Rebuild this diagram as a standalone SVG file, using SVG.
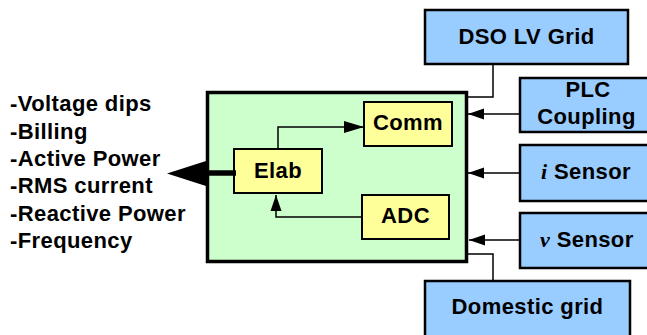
<svg xmlns="http://www.w3.org/2000/svg" width="647" height="335" viewBox="0 0 647 335">
<style>
.ext{fill:#99CCFF;stroke:#000;stroke-width:2.5}
.blk{fill:#FFFF99;stroke:#000;stroke-width:2}
.t{font-family:"Liberation Sans",Arial,sans-serif;font-weight:bold;font-size:22px;letter-spacing:0.4px;fill:#000}
.m{text-anchor:middle}
.it{font-family:"Liberation Serif","Times New Roman",serif;font-style:italic;font-weight:bold}
.c{fill:none;stroke:#000;stroke-width:1.5}
</style>
<defs>
<marker id="ah" markerUnits="userSpaceOnUse" markerWidth="17" markerHeight="12" refX="16" refY="6" orient="auto">
<path d="M0,0.5 L16,6 L0,11.5 z" fill="#000"/>
</marker>
<marker id="ahL" markerUnits="userSpaceOnUse" markerWidth="21" markerHeight="13" refX="20" refY="6.5" orient="auto">
<path d="M0,0.5 L20,6.5 L0,12.5 z" fill="#000"/>
</marker>
</defs>
<rect width="647" height="335" fill="#fff"/>
<g id="meter">
<rect x="207.5" y="92.5" width="259" height="169" fill="#CCFFCC" stroke="#000" stroke-width="3.5"/>
</g>
<g id="comm"><rect class="blk" x="364" y="102" width="88" height="44"/><text class="t m" x="408" y="130">Comm</text></g>
<g id="elab"><rect class="blk" x="234" y="149" width="88" height="44"/><text class="t m" x="278" y="178">Elab</text></g>
<g id="adc"><rect class="blk" x="362" y="195" width="87" height="44"/><text class="t m" x="405.5" y="223">ADC</text></g>
<g id="dso"><rect class="ext" x="425" y="10" width="203" height="54"/><text class="t m" x="526.5" y="44">DSO LV Grid</text></g>
<g id="plc"><rect class="ext" x="520" y="78" width="132" height="54"/><text class="t m" x="588" y="97">PLC</text><text class="t m" x="586.5" y="124">Coupling</text></g>
<g id="isensor"><rect class="ext" x="520" y="145" width="132" height="56"/><text class="t" x="541" y="179"><tspan class="it">i</tspan> Sensor</text></g>
<g id="vsensor"><rect class="ext" x="520" y="213" width="132" height="55"/><text class="t" x="540" y="247"><tspan class="it">v</tspan> Sensor</text></g>
<g id="domestic"><rect class="ext" x="425" y="281" width="205" height="60"/><text class="t m" x="527.5" y="314">Domestic grid</text></g>
<g id="outputs">
<text class="t" x="10" y="111">-Voltage dips</text>
<text class="t" x="10" y="139">-Billing</text>
<text class="t" x="10" y="166">-Active Power</text>
<text class="t" x="10" y="193">-RMS current</text>
<text class="t" x="10" y="221">-Reactive Power</text>
<text class="t" x="10" y="248">-Frequency</text>
</g>
<g id="connectors">
<path class="c" d="M278,149 V127 H364" marker-end="url(#ahL)"/>
<path class="c" d="M362,217 H276 V195" marker-end="url(#ah)"/>
<path class="c" d="M493,64 V97 H467"/>
<path class="c" d="M467,254 H493 V281"/>
<path class="c" d="M520,114 H468" marker-end="url(#ah)"/>
<path class="c" d="M520,173 H468" marker-end="url(#ah)"/>
<path class="c" d="M520,240 H469" marker-end="url(#ah)"/>
<path d="M236,173 H204" stroke="#000" stroke-width="5.5" fill="none"/>
<polygon points="206,161 206,186 167,173.5" fill="#000"/>
</g>
</svg>
